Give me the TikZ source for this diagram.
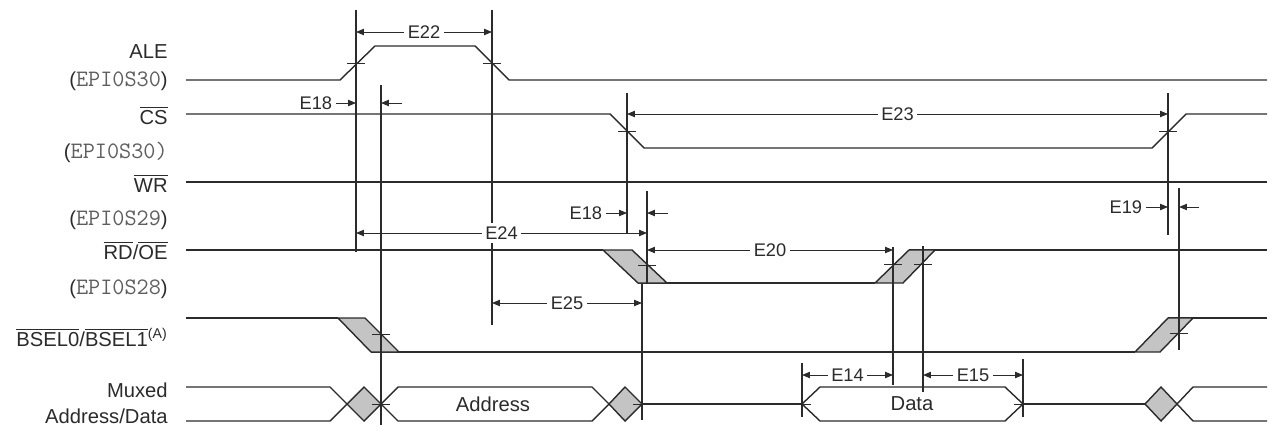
\documentclass[tikz,border=0pt]{standalone}
\usepackage{fontspec}
\setmainfont{Liberation Sans}
\usepackage{tikz}
\usetikzlibrary{arrows.meta,calc}
\definecolor{Ink}{HTML}{2B2B2B}
\definecolor{PinGray}{HTML}{5E5E5E}
\definecolor{Shade}{HTML}{C4C4C4}
\newcommand{\ovl}[1]{\ensuremath{\overline{\mbox{#1}}}}
\newcommand{\pinfont}{\fontsize{13.4}{15}\selectfont\ttfamily}
\newcommand{\pin}[1]{(\textcolor{PinGray}{\pinfont #1})}
\newcommand{\tmk}[1]{\draw[tck] ($(#1)+(-9,0)$) -- ($(#1)+(9,0)$);}
\tikzset{
  sig/.style={draw=Ink,line width=0.8pt,line join=miter},
  hz/.style={sig,fill=Shade},
  vln/.style={draw=Ink,line width=0.6pt},
  tck/.style={draw=Ink,line width=0.5pt},
  dim/.style={draw=Ink,line width=0.5pt,
              {Triangle[length=4.5pt,width=3.6pt]}-{Triangle[length=4.5pt,width=3.6pt]}},
  ptr/.style={draw=Ink,line width=0.5pt,-{Triangle[length=4.5pt,width=3.6pt]}},
  lbl/.style={font=\fontsize{11.5}{13}\selectfont,text=Ink,inner sep=0pt,anchor=base east},
  elbl/.style={font=\fontsize{10.4}{12}\selectfont,text=Ink,inner sep=2pt},
  dlbl/.style={elbl,fill=white},
  bus/.style={font=\fontsize{11.5}{13}\selectfont,text=Ink,inner sep=0pt}
}

\begin{document}
\begin{tikzpicture}[x=0.02cm,y=-0.02cm]
  \useasboundingbox (0,0) rectangle (1270,426);

  % signal names
  \node[lbl] (ale)    at (168,58)  {ALE};
  \node[lbl] (alep)   at (168,86)  {\pin{EPI0S30}};
  \node[lbl] (cs)     at (168,124) {\ovl{CS}};
  \node[lbl] (csp)    at (168,158) {(\textcolor{PinGray}{\pinfont EPI0S30)}};
  \node[lbl] (wr)     at (168,192) {\ovl{WR}};
  \node[lbl] (wrp)    at (168,225) {\pin{EPI0S29}};
  \node[lbl] (rd)     at (168,259) {\ovl{RD}/\ovl{OE}};
  \node[lbl] (rdp)    at (168,294) {\pin{EPI0S28}};
  \node[lbl] (bsel)   at (168,346) {\ovl{BSEL0}/\ovl{BSEL1}\textsuperscript{(A)}};
  \node[lbl] (muxed)  at (168,397) {Muxed};
  \node[lbl] (adata)  at (168,423) {Address/Data};

  % waveforms
  \draw[sig] (186,80) -- (340,80) -- (375,46) -- (475,46) -- (509,80) -- (1267,80);
  \draw[sig] (186,114) -- (610,114) -- (644,148) -- (1152,148) -- (1186,114) -- (1267,114);
  \draw[sig] (186,182) -- (1267,182);
  \draw[sig] (186,250) -- (603,250);
  \draw[sig] (638,283) -- (875,283);
  \draw[sig] (909,250) -- (1267,250);
  \draw[sig] (186,318) -- (338,318);
  \draw[sig] (371,352) -- (1135,352);
  \draw[sig] (1168,318) -- (1267,318);
  \draw[hz] (603,250) -- (632,250) -- (667,283) -- (638,283) -- cycle;
  \draw[hz] (875,283) -- (903,283) -- (935,250) -- (909,250) -- cycle;
  \draw[hz] (338,318) -- (365,318) -- (399,352) -- (371,352) -- cycle;
  \draw[hz] (1135,352) -- (1160,352) -- (1193,318) -- (1168,318) -- cycle;

  % muxed bus
  \draw[sig] (186,387) -- (330,387) -- (347,404) -- (330,421) -- (186,421);
  \draw[sig] (381,404) -- (398,387) -- (592,387) -- (609,404) -- (592,421) -- (398,421) -- cycle;
  \draw[sig] (642,404) -- (802,404);
  \draw[sig] (802,404) -- (820,387) -- (1005,387) -- (1023,404) -- (1005,421) -- (820,421) -- cycle;
  \draw[sig] (1023,404) -- (1145,404);
  \draw[sig] (1267,387) -- (1193,387) -- (1177,404) -- (1193,421) -- (1267,421);
  \draw[hz] (347,404) -- (364,387) -- (381,404) -- (364,421) -- cycle;
  \draw[hz] (609,404) -- (625,387) -- (642,404) -- (625,421) -- cycle;
  \draw[hz] (1145,404) -- (1161,387) -- (1177,404) -- (1161,421) -- cycle;
  \node[bus] (addr) at (493,404) {Address};
  \node[bus] (data) at (912,404) {Data};

  % time markers
  \foreach \nm/\x/\ya/\yb in {ta/356/10/252, tb/492/10/325, tc/381/85/425,
      td/627/93/233, te/1168/93/235, tf/647/191/283, tg/1179/188/350,
      th/642/283/420, ti/893/247/385, tj/923/246/392, tk/802/363/417,
      tl/1023/359/417}{
    \coordinate (\nm-t) at (\x,\ya);
    \coordinate (\nm-b) at (\x,\yb);
    \draw[vln] (\nm-t) -- (\nm-b);
  }

  % crossing marks
  \tmk{ta-t |- 0,63}
  \tmk{tb-t |- 0,63}
  \tmk{td-t |- 0,131}
  \tmk{te-t |- 0,131}
  \tmk{tf-t |- 0,265}
  \tmk{ti-t |- 0,264}
  \tmk{tj-t |- 0,264}
  \tmk{tc-t |- 0,334}
  \tmk{tg-t |- 0,333}
  \tmk{tc-t |- 0,404}
  \tmk{th-t |- 0,404}
  \tmk{tk-t |- 0,404}
  \tmk{tl-t |- 0,404}

  % timing parameters
  \draw[dim] (ta-t |- 0,32) -- node[dlbl] (e22) {E22} (tb-t |- 0,32);
  \draw[dim] (td-t |- 0,114) -- node[dlbl] (e23) {E23} (te-t |- 0,114);
  \draw[dim] (ta-t |- 0,233) -- node[dlbl] (e24) {E24} (tf-t |- 0,233);
  \draw[dim] (tf-t |- 0,250) -- node[dlbl] (e20) {E20} (ti-t |- 0,250);
  \draw[dim] (tb-t |- 0,303) -- node[dlbl] (e25) {E25} (th-t |- 0,303);
  \draw[dim] (tk-t |- 0,375) -- node[dlbl] (e14) {E14} (ti-t |- 0,375);
  \draw[dim] (tj-t |- 0,375) -- node[dlbl] (e15) {E15} (tl-t |- 0,375);

  \node[elbl,anchor=east] (e18a) at (336,103) {E18};
  \draw[ptr] (e18a.east) -- (ta-t |- e18a.east);
  \draw[ptr] ($(tc-t |- e18a.east)+(21,0)$) -- (tc-t |- e18a.east);
  \node[elbl,anchor=east] (e18b) at (606,213) {E18};
  \draw[ptr] (e18b.east) -- (td-t |- e18b.east);
  \draw[ptr] ($(tf-t |- e18b.east)+(21,0)$) -- (tf-t |- e18b.east);
  \node[elbl,anchor=east] (e19) at (1146,207) {E19};
  \draw[ptr] (e19.east) -- (te-t |- e19.east);
  \draw[ptr] ($(tg-t |- e19.east)+(20,0)$) -- (tg-t |- e19.east);
\end{tikzpicture}
\end{document}
